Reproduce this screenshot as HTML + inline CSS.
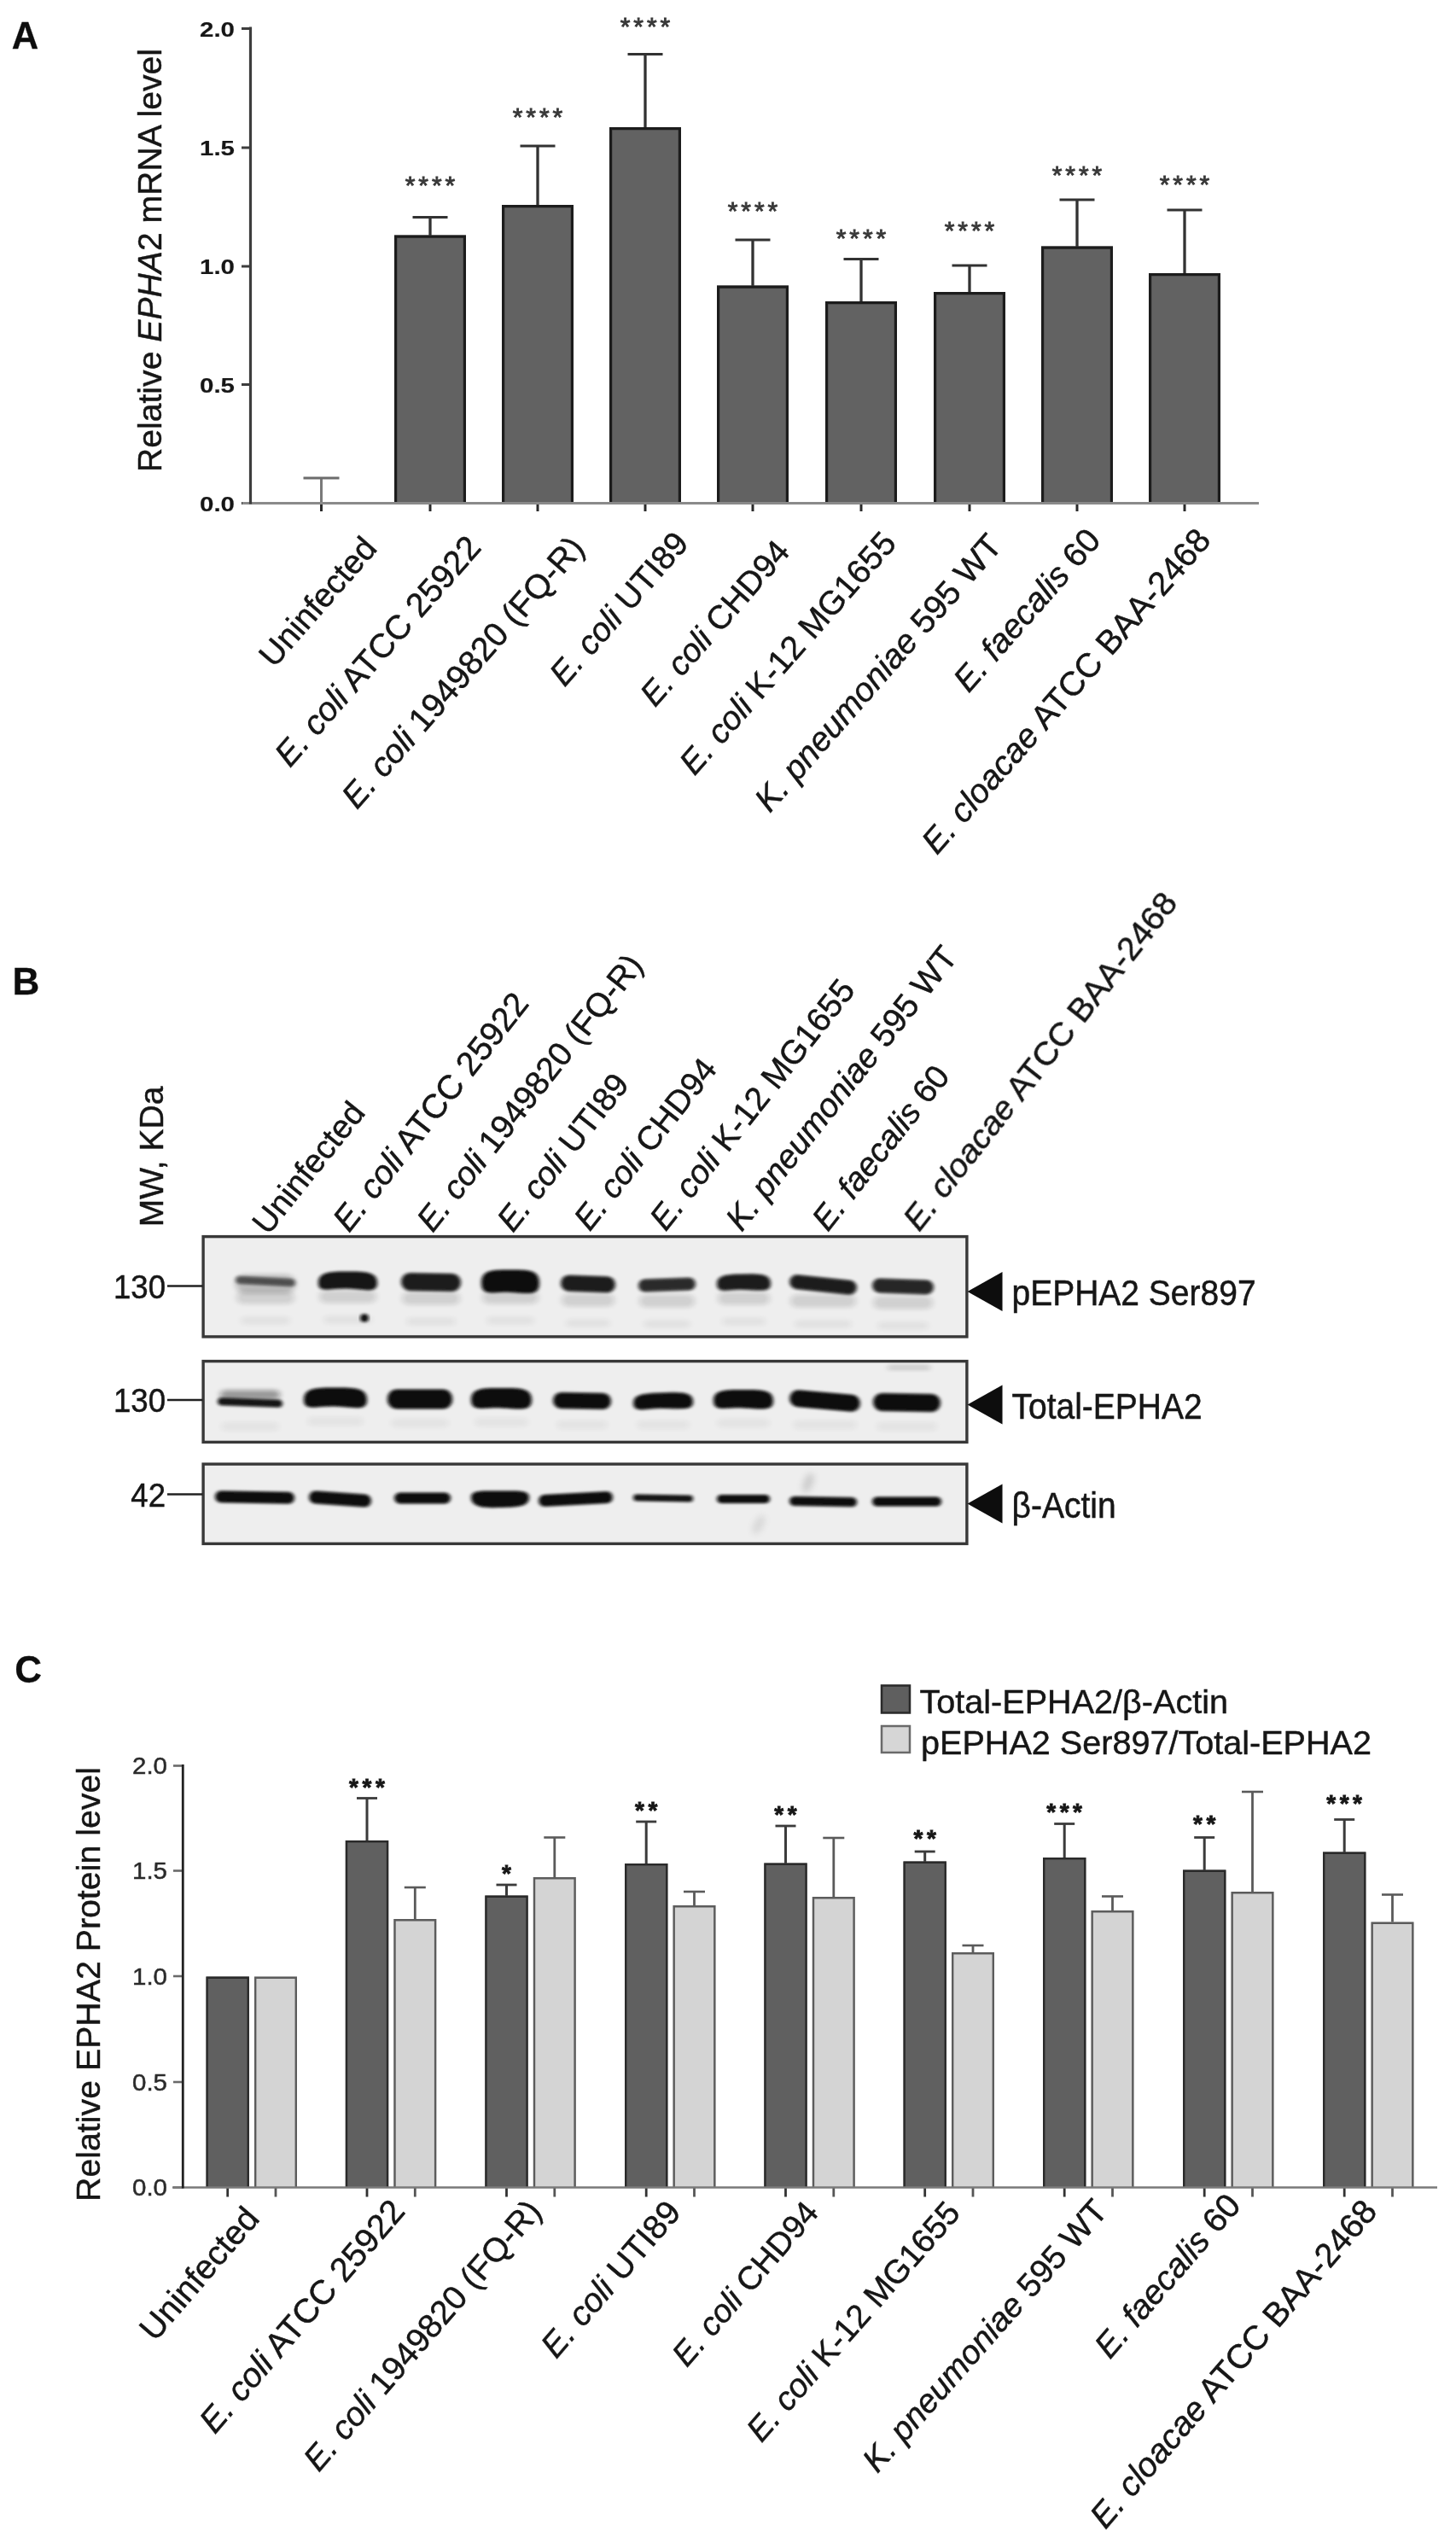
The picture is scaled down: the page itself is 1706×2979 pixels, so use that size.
<!DOCTYPE html>
<html lang="en"><head><meta charset="utf-8"><title>EPHA2 expression figure</title>
<style>html,body{margin:0;padding:0;background:#fff}svg{display:block}text{font-family:"Liberation Sans", sans-serif;white-space:pre}</style></head><body>
<svg width="1706" height="2979" viewBox="0 0 1706 2979">
<defs><filter id="b1" x="-20%" y="-60%" width="140%" height="220%"><feGaussianBlur stdDeviation="2.2 1.6"/></filter><filter id="b2" x="-20%" y="-60%" width="140%" height="220%"><feGaussianBlur stdDeviation="3.5 2.5"/></filter><filter id="b3" x="-150%" y="-60%" width="400%" height="220%"><feGaussianBlur stdDeviation="3.5"/></filter><filter id="b0" x="-5%" y="-5%" width="110%" height="110%"><feGaussianBlur stdDeviation="0.7"/></filter></defs>
<rect width="1706" height="2979" fill="#fff"/>
<g filter="url(#b0)">
<text x="13.7" y="57.4" font-size="43.5" text-anchor="start" font-weight="bold" fill="#111" stroke="#111" stroke-width="0.3" >A</text>
<line x1="283.0" y1="33.5" x2="293.5" y2="33.5" stroke="#3c3c3c" stroke-width="3"/>
<text x="275.0" y="42.5" font-size="24.5" text-anchor="end" font-weight="bold" fill="#161616" stroke="#161616" stroke-width="0.15" textLength="41" lengthAdjust="spacingAndGlyphs">2.0</text>
<line x1="283.0" y1="173.0" x2="293.5" y2="173.0" stroke="#3c3c3c" stroke-width="3"/>
<text x="275.0" y="182.0" font-size="24.5" text-anchor="end" font-weight="bold" fill="#161616" stroke="#161616" stroke-width="0.15" textLength="41" lengthAdjust="spacingAndGlyphs">1.5</text>
<line x1="283.0" y1="312.0" x2="293.5" y2="312.0" stroke="#3c3c3c" stroke-width="3"/>
<text x="275.0" y="321.0" font-size="24.5" text-anchor="end" font-weight="bold" fill="#161616" stroke="#161616" stroke-width="0.15" textLength="41" lengthAdjust="spacingAndGlyphs">1.0</text>
<line x1="283.0" y1="450.5" x2="293.5" y2="450.5" stroke="#3c3c3c" stroke-width="3"/>
<text x="275.0" y="459.5" font-size="24.5" text-anchor="end" font-weight="bold" fill="#161616" stroke="#161616" stroke-width="0.15" textLength="41" lengthAdjust="spacingAndGlyphs">0.5</text>
<line x1="283.0" y1="589.5" x2="293.5" y2="589.5" stroke="#3c3c3c" stroke-width="3"/>
<text x="275.0" y="598.5" font-size="24.5" text-anchor="end" font-weight="bold" fill="#161616" stroke="#161616" stroke-width="0.15" textLength="41" lengthAdjust="spacingAndGlyphs">0.0</text>
<text transform="translate(189.2,305) rotate(-90)" text-anchor="middle" font-size="39.15" fill="#141414" stroke="#141414" stroke-width="0.45">Relative <tspan font-style="italic">EPHA</tspan>2 mRNA level</text>
<line x1="376.5" y1="589.5" x2="376.5" y2="599.0" stroke="#2a2a2a" stroke-width="3"/>
<line x1="376.5" y1="560.0" x2="376.5" y2="589.5" stroke="#7a7a7a" stroke-width="3"/>
<line x1="355.5" y1="560.0" x2="397.5" y2="560.0" stroke="#6c6c6c" stroke-width="3"/>
<line x1="504.0" y1="589.5" x2="504.0" y2="599.0" stroke="#2a2a2a" stroke-width="3"/>
<line x1="504.0" y1="254.5" x2="504.0" y2="277.5" stroke="#333" stroke-width="3.3"/>
<line x1="483.5" y1="254.5" x2="524.5" y2="254.5" stroke="#333" stroke-width="3"/>
<rect x="462.0" y="275.5" width="84.0" height="314.0" fill="#626262"/>
<path d="M463.6,589.5 V277.1 H544.4 V589.5" fill="none" stroke="#1c1c1c" stroke-width="3.2"/>
<text x="505.9" y="227.0" font-size="30" text-anchor="middle" font-weight="normal" fill="#383838" stroke="#383838" stroke-width="0.9" letter-spacing="3.9">****</text>
<line x1="630.0" y1="589.5" x2="630.0" y2="599.0" stroke="#2a2a2a" stroke-width="3"/>
<line x1="630.0" y1="171.0" x2="630.0" y2="242.0" stroke="#333" stroke-width="3.3"/>
<line x1="609.5" y1="171.0" x2="650.5" y2="171.0" stroke="#333" stroke-width="3"/>
<rect x="588.0" y="240.0" width="84.0" height="349.5" fill="#626262"/>
<path d="M589.6,589.5 V241.6 H670.4 V589.5" fill="none" stroke="#1c1c1c" stroke-width="3.2"/>
<text x="631.9" y="146.5" font-size="30" text-anchor="middle" font-weight="normal" fill="#383838" stroke="#383838" stroke-width="0.9" letter-spacing="3.9">****</text>
<line x1="756.0" y1="589.5" x2="756.0" y2="599.0" stroke="#2a2a2a" stroke-width="3"/>
<line x1="756.0" y1="63.5" x2="756.0" y2="151.0" stroke="#333" stroke-width="3.3"/>
<line x1="735.5" y1="63.5" x2="776.5" y2="63.5" stroke="#333" stroke-width="3"/>
<rect x="714.0" y="149.0" width="84.0" height="440.5" fill="#626262"/>
<path d="M715.6,589.5 V150.6 H796.4 V589.5" fill="none" stroke="#1c1c1c" stroke-width="3.2"/>
<text x="757.9" y="41.0" font-size="30" text-anchor="middle" font-weight="normal" fill="#383838" stroke="#383838" stroke-width="0.9" letter-spacing="3.9">****</text>
<line x1="882.0" y1="589.5" x2="882.0" y2="599.0" stroke="#2a2a2a" stroke-width="3"/>
<line x1="882.0" y1="281.0" x2="882.0" y2="336.5" stroke="#333" stroke-width="3.3"/>
<line x1="861.5" y1="281.0" x2="902.5" y2="281.0" stroke="#333" stroke-width="3"/>
<rect x="840.0" y="334.5" width="84.0" height="255.0" fill="#626262"/>
<path d="M841.6,589.5 V336.1 H922.4 V589.5" fill="none" stroke="#1c1c1c" stroke-width="3.2"/>
<text x="883.9" y="256.5" font-size="30" text-anchor="middle" font-weight="normal" fill="#383838" stroke="#383838" stroke-width="0.9" letter-spacing="3.9">****</text>
<line x1="1009.0" y1="589.5" x2="1009.0" y2="599.0" stroke="#2a2a2a" stroke-width="3"/>
<line x1="1009.0" y1="303.5" x2="1009.0" y2="355.0" stroke="#333" stroke-width="3.3"/>
<line x1="988.5" y1="303.5" x2="1029.5" y2="303.5" stroke="#333" stroke-width="3"/>
<rect x="967.0" y="353.0" width="84.0" height="236.5" fill="#626262"/>
<path d="M968.6,589.5 V354.6 H1049.4 V589.5" fill="none" stroke="#1c1c1c" stroke-width="3.2"/>
<text x="1010.9" y="288.5" font-size="30" text-anchor="middle" font-weight="normal" fill="#383838" stroke="#383838" stroke-width="0.9" letter-spacing="3.9">****</text>
<line x1="1136.0" y1="589.5" x2="1136.0" y2="599.0" stroke="#2a2a2a" stroke-width="3"/>
<line x1="1136.0" y1="311.0" x2="1136.0" y2="344.0" stroke="#333" stroke-width="3.3"/>
<line x1="1115.5" y1="311.0" x2="1156.5" y2="311.0" stroke="#333" stroke-width="3"/>
<rect x="1094.0" y="342.0" width="84.0" height="247.5" fill="#626262"/>
<path d="M1095.6,589.5 V343.6 H1176.4 V589.5" fill="none" stroke="#1c1c1c" stroke-width="3.2"/>
<text x="1137.9" y="280.0" font-size="30" text-anchor="middle" font-weight="normal" fill="#383838" stroke="#383838" stroke-width="0.9" letter-spacing="3.9">****</text>
<line x1="1262.0" y1="589.5" x2="1262.0" y2="599.0" stroke="#2a2a2a" stroke-width="3"/>
<line x1="1262.0" y1="234.0" x2="1262.0" y2="290.5" stroke="#333" stroke-width="3.3"/>
<line x1="1241.5" y1="234.0" x2="1282.5" y2="234.0" stroke="#333" stroke-width="3"/>
<rect x="1220.0" y="288.5" width="84.0" height="301.0" fill="#626262"/>
<path d="M1221.6,589.5 V290.1 H1302.4 V589.5" fill="none" stroke="#1c1c1c" stroke-width="3.2"/>
<text x="1263.9" y="215.0" font-size="30" text-anchor="middle" font-weight="normal" fill="#383838" stroke="#383838" stroke-width="0.9" letter-spacing="3.9">****</text>
<line x1="1388.0" y1="589.5" x2="1388.0" y2="599.0" stroke="#2a2a2a" stroke-width="3"/>
<line x1="1388.0" y1="246.0" x2="1388.0" y2="322.0" stroke="#333" stroke-width="3.3"/>
<line x1="1367.5" y1="246.0" x2="1408.5" y2="246.0" stroke="#333" stroke-width="3"/>
<rect x="1346.0" y="320.0" width="84.0" height="269.5" fill="#626262"/>
<path d="M1347.6,589.5 V321.6 H1428.4 V589.5" fill="none" stroke="#1c1c1c" stroke-width="3.2"/>
<text x="1389.9" y="226.0" font-size="30" text-anchor="middle" font-weight="normal" fill="#383838" stroke="#383838" stroke-width="0.9" letter-spacing="3.9">****</text>
<line x1="284.0" y1="589.5" x2="1475.0" y2="589.5" stroke="#8a8a8a" stroke-width="2.8"/>
<line x1="293.5" y1="31.5" x2="293.5" y2="590.5" stroke="#3c3c3c" stroke-width="3.2"/>
<text transform="translate(443.5,643.5) rotate(-48.8)" text-anchor="end" font-size="38.9" fill="#141414" stroke="#141414" stroke-width="0.45">Uninfected</text>
<text transform="translate(565.4,642.5) rotate(-48.8)" text-anchor="end" font-size="39.6" fill="#141414" stroke="#141414" stroke-width="0.45"><tspan font-style="italic">E. coli</tspan> ATCC 25922</text>
<text transform="translate(686.4,643.0) rotate(-48.8)" text-anchor="end" font-size="39.6" fill="#141414" stroke="#141414" stroke-width="0.45"><tspan font-style="italic">E. coli</tspan> 1949820 (FQ-R)</text>
<text transform="translate(808.5,637.7) rotate(-48.8)" text-anchor="end" font-size="39.0" fill="#141414" stroke="#141414" stroke-width="0.45"><tspan font-style="italic">E. coli</tspan> UTI89</text>
<text transform="translate(927.2,647.3) rotate(-48.8)" text-anchor="end" font-size="38.6" fill="#141414" stroke="#141414" stroke-width="0.45"><tspan font-style="italic">E. coli</tspan> CHD94</text>
<text transform="translate(1052.0,637.7) rotate(-48.8)" text-anchor="end" font-size="39.2" fill="#141414" stroke="#141414" stroke-width="0.45"><tspan font-style="italic">E. coli</tspan> K-12 MG1655</text>
<text transform="translate(1176.0,640.5) rotate(-48.8)" text-anchor="end" font-size="39.6" fill="#141414" stroke="#141414" stroke-width="0.45"><tspan font-style="italic">K. pneumoniae</tspan> 595 WT</text>
<text transform="translate(1291.5,634.0) rotate(-48.8)" text-anchor="end" font-size="39.6" fill="#141414" stroke="#141414" stroke-width="0.45"><tspan font-style="italic">E. faecalis</tspan> 60</text>
<text transform="translate(1420.5,634.0) rotate(-48.8)" text-anchor="end" font-size="39.6" fill="#141414" stroke="#141414" stroke-width="0.45"><tspan font-style="italic">E. cloacae</tspan> ATCC BAA-2468</text>
<text x="14.6" y="1165.0" font-size="44" text-anchor="start" font-weight="bold" fill="#111" stroke="#111" stroke-width="0.3" >B</text>
<text transform="translate(190.5,1355) rotate(-90)" text-anchor="middle" font-size="39" fill="#141414" stroke="#141414" stroke-width="0.45">MW, KDa</text>
<rect x="238.1" y="1448.6" width="894.8" height="117.3" fill="#eeeeee" stroke="#383838" stroke-width="3.4" />
<rect x="238.1" y="1594.6" width="894.8" height="94.8" fill="#eeeeee" stroke="#383838" stroke-width="3.4" />
<rect x="238.1" y="1715.1" width="894.8" height="93.3" fill="#eeeeee" stroke="#383838" stroke-width="3.4" />
<rect x="277.0" y="1512.5" width="68.0" height="15.0" rx="7.5" fill="#0a0a0a" opacity="0.13" filter="url(#b2)"/>
<rect x="282.0" y="1542.0" width="58.0" height="10.0" rx="5.0" fill="#0a0a0a" opacity="0.05" filter="url(#b2)"/>
<rect x="276.0" y="1493.0" width="70.0" height="22.0" rx="11.0" fill="#0a0a0a" opacity="0.22" filter="url(#b2)"/>
<rect x="276.0" y="1496.5" width="70.0" height="9.0" rx="4.5" fill="#0a0a0a" opacity="0.62" filter="url(#b1)" transform="rotate(3 311.0 1501.0)"/>
<rect x="374.0" y="1511.5" width="67.0" height="15.0" rx="7.5" fill="#0a0a0a" opacity="0.13" filter="url(#b2)"/>
<rect x="379.0" y="1541.0" width="57.0" height="10.0" rx="5.0" fill="#0a0a0a" opacity="0.05" filter="url(#b2)"/>
<path d="M373.0,1503.0 C373.0,1489.7 386.8,1489.5 407.5,1489.5 S442.0,1489.7 442.0,1503.0 C442.0,1515.6 428.2,1510.5 407.5,1509.6 S373.0,1515.6 373.0,1503.0Z" fill="#0a0a0a" opacity="0.97" filter="url(#b1)"/>
<rect x="471.0" y="1513.5" width="68.0" height="15.0" rx="7.5" fill="#0a0a0a" opacity="0.13" filter="url(#b2)"/>
<rect x="476.0" y="1543.0" width="58.0" height="10.0" rx="5.0" fill="#0a0a0a" opacity="0.05" filter="url(#b2)"/>
<rect x="470.0" y="1491.5" width="70.0" height="21.0" rx="10.5" fill="#0a0a0a" opacity="0.93" filter="url(#b1)" transform="rotate(1 505.0 1502.0)"/>
<rect x="565.0" y="1512.5" width="66.0" height="15.0" rx="7.5" fill="#0a0a0a" opacity="0.13" filter="url(#b2)"/>
<rect x="570.0" y="1542.0" width="56.0" height="10.0" rx="5.0" fill="#0a0a0a" opacity="0.05" filter="url(#b2)"/>
<path d="M564.0,1503.0 C564.0,1487.0 577.6,1487.5 598.0,1487.5 S632.0,1487.0 632.0,1503.0 C632.0,1519.2 618.4,1514.5 598.0,1513.9 S564.0,1519.2 564.0,1503.0Z" fill="#0a0a0a" opacity="1.0" filter="url(#b1)"/>
<rect x="658.0" y="1515.5" width="62.0" height="15.0" rx="7.5" fill="#0a0a0a" opacity="0.13" filter="url(#b2)"/>
<rect x="663.0" y="1545.0" width="52.0" height="10.0" rx="5.0" fill="#0a0a0a" opacity="0.05" filter="url(#b2)"/>
<rect x="657.0" y="1494.5" width="64.0" height="19.0" rx="9.5" fill="#0a0a0a" opacity="0.93" filter="url(#b1)" transform="rotate(2 689.0 1504.0)"/>
<rect x="749.0" y="1516.5" width="65.0" height="15.0" rx="7.5" fill="#0a0a0a" opacity="0.13" filter="url(#b2)"/>
<rect x="754.0" y="1546.0" width="55.0" height="10.0" rx="5.0" fill="#0a0a0a" opacity="0.05" filter="url(#b2)"/>
<rect x="748.0" y="1497.5" width="67.0" height="15.0" rx="7.5" fill="#0a0a0a" opacity="0.86" filter="url(#b1)" transform="rotate(-2 781.5 1505.0)"/>
<rect x="841.0" y="1513.5" width="61.0" height="15.0" rx="7.5" fill="#0a0a0a" opacity="0.13" filter="url(#b2)"/>
<rect x="846.0" y="1543.0" width="51.0" height="10.0" rx="5.0" fill="#0a0a0a" opacity="0.05" filter="url(#b2)"/>
<path d="M840.0,1504.0 C840.0,1492.3 852.6,1492.5 871.5,1492.5 S903.0,1492.3 903.0,1504.0 C903.0,1515.4 890.4,1511.5 871.5,1510.9 S840.0,1515.4 840.0,1504.0Z" fill="#0a0a0a" opacity="0.93" filter="url(#b1)" transform="rotate(-1 871.5 1502.0)"/>
<rect x="926.0" y="1516.5" width="77.0" height="15.0" rx="7.5" fill="#0a0a0a" opacity="0.13" filter="url(#b2)"/>
<rect x="931.0" y="1546.0" width="67.0" height="10.0" rx="5.0" fill="#0a0a0a" opacity="0.05" filter="url(#b2)"/>
<rect x="925.0" y="1496.5" width="79.0" height="17.0" rx="8.5" fill="#0a0a0a" opacity="0.92" filter="url(#b1)" transform="rotate(6 964.5 1505.0)"/>
<rect x="1023.0" y="1518.5" width="70.0" height="15.0" rx="7.5" fill="#0a0a0a" opacity="0.13" filter="url(#b2)"/>
<rect x="1028.0" y="1548.0" width="60.0" height="10.0" rx="5.0" fill="#0a0a0a" opacity="0.05" filter="url(#b2)"/>
<rect x="1022.0" y="1498.5" width="72.0" height="17.0" rx="8.5" fill="#0a0a0a" opacity="0.88" filter="url(#b1)" transform="rotate(2 1058.0 1507.0)"/>
<circle cx="427" cy="1544" r="5" fill="#111" filter="url(#b1)"/>
<rect x="258.0" y="1628.5" width="70.0" height="11.0" rx="5.5" fill="#0a0a0a" opacity="0.38" filter="url(#b2)"/>
<rect x="255.0" y="1638.5" width="76.0" height="9.0" rx="4.5" fill="#0a0a0a" opacity="0.97" filter="url(#b1)" transform="rotate(2 293.0 1643.0)"/>
<rect x="259.0" y="1665.5" width="68.0" height="11.0" rx="5.5" fill="#0a0a0a" opacity="0.045" filter="url(#b2)"/>
<path d="M356.0,1640.0 C356.0,1625.5 370.8,1625.5 393.0,1625.5 S430.0,1625.5 430.0,1640.0 C430.0,1653.8 415.2,1648.5 393.0,1647.6 S356.0,1653.8 356.0,1640.0Z" fill="#0a0a0a" opacity="1.0" filter="url(#b1)"/>
<rect x="360.0" y="1659.5" width="66.0" height="11.0" rx="5.5" fill="#0a0a0a" opacity="0.045" filter="url(#b2)"/>
<rect x="454.0" y="1627.5" width="76.0" height="23.0" rx="11.0" fill="#0a0a0a" opacity="1.0" filter="url(#b1)"/>
<rect x="458.0" y="1661.5" width="68.0" height="11.0" rx="5.5" fill="#0a0a0a" opacity="0.045" filter="url(#b2)"/>
<path d="M552.0,1640.0 C552.0,1625.6 566.2,1626.0 587.5,1626.0 S623.0,1625.6 623.0,1640.0 C623.0,1654.4 608.8,1650.0 587.5,1649.4 S552.0,1654.4 552.0,1640.0Z" fill="#0a0a0a" opacity="1.0" filter="url(#b1)"/>
<rect x="556.0" y="1660.5" width="63.0" height="11.0" rx="5.5" fill="#0a0a0a" opacity="0.045" filter="url(#b2)"/>
<rect x="648.0" y="1631.5" width="68.0" height="19.0" rx="9.5" fill="#0a0a0a" opacity="1.0" filter="url(#b1)" transform="rotate(1 682.0 1641.0)"/>
<rect x="652.0" y="1663.5" width="60.0" height="11.0" rx="5.5" fill="#0a0a0a" opacity="0.045" filter="url(#b2)"/>
<path d="M742.0,1643.0 C742.0,1631.3 756.0,1631.5 777.0,1631.5 S812.0,1631.3 812.0,1643.0 C812.0,1654.4 798.0,1650.5 777.0,1649.9 S742.0,1654.4 742.0,1643.0Z" fill="#0a0a0a" opacity="1.0" filter="url(#b1)" transform="rotate(-2 777.0 1641.0)"/>
<rect x="746.0" y="1663.5" width="62.0" height="11.0" rx="5.5" fill="#0a0a0a" opacity="0.045" filter="url(#b2)"/>
<path d="M836.0,1641.0 C836.0,1627.7 850.0,1628.0 871.0,1628.0 S906.0,1627.7 906.0,1641.0 C906.0,1654.2 892.0,1650.0 871.0,1649.4 S836.0,1654.2 836.0,1641.0Z" fill="#0a0a0a" opacity="1.0" filter="url(#b1)"/>
<rect x="840.0" y="1661.5" width="62.0" height="11.0" rx="5.5" fill="#0a0a0a" opacity="0.045" filter="url(#b2)"/>
<rect x="925.0" y="1631.0" width="83.0" height="20.0" rx="10.0" fill="#0a0a0a" opacity="1.0" filter="url(#b1)" transform="rotate(5 966.5 1641.0)"/>
<rect x="929.0" y="1663.5" width="75.0" height="11.0" rx="5.5" fill="#0a0a0a" opacity="0.045" filter="url(#b2)"/>
<rect x="1023.0" y="1632.5" width="79.0" height="21.0" rx="10.5" fill="#0a0a0a" opacity="1.0" filter="url(#b1)" transform="rotate(1 1062.5 1643.0)"/>
<rect x="1027.0" y="1665.5" width="71.0" height="11.0" rx="5.5" fill="#0a0a0a" opacity="0.045" filter="url(#b2)"/>
<rect x="1040.0" y="1599.5" width="50.0" height="5.0" rx="2.5" fill="#0a0a0a" opacity="0.18" filter="url(#b2)"/>
<rect x="252.0" y="1747.0" width="93.0" height="14.0" rx="7.0" fill="#0a0a0a" opacity="1.0" filter="url(#b1)" transform="rotate(1 298.5 1754.0)"/>
<rect x="362.0" y="1748.5" width="73.0" height="15.0" rx="7.5" fill="#0a0a0a" opacity="1.0" filter="url(#b1)" transform="rotate(4 398.5 1756.0)"/>
<rect x="462.0" y="1748.5" width="66.0" height="13.0" rx="6.5" fill="#0a0a0a" opacity="1.0" filter="url(#b1)"/>
<path d="M552.0,1754.0 C552.0,1744.8 565.6,1746.5 586.0,1746.5 S620.0,1744.8 620.0,1754.0 C620.0,1765.4 606.4,1765.5 586.0,1766.1 S552.0,1765.4 552.0,1754.0Z" fill="#0a0a0a" opacity="1.0" filter="url(#b1)"/>
<rect x="631.0" y="1749.0" width="87.0" height="14.0" rx="7.0" fill="#0a0a0a" opacity="1.0" filter="url(#b1)" transform="rotate(-3 674.5 1756.0)"/>
<rect x="742.0" y="1751.0" width="70.0" height="8.0" rx="4.0" fill="#0a0a0a" opacity="0.97" filter="url(#b1)" transform="rotate(1 777.0 1755.0)"/>
<rect x="840.0" y="1751.0" width="62.0" height="10.0" rx="5.0" fill="#0a0a0a" opacity="1.0" filter="url(#b1)"/>
<rect x="925.0" y="1753.5" width="79.0" height="11.0" rx="5.5" fill="#0a0a0a" opacity="1.0" filter="url(#b1)" transform="rotate(1 964.5 1759.0)"/>
<rect x="1022.0" y="1753.5" width="81.0" height="11.0" rx="5.5" fill="#0a0a0a" opacity="1.0" filter="url(#b1)"/>
<ellipse cx="947" cy="1737" rx="6" ry="12" fill="#555" opacity="0.2" filter="url(#b3)" transform="rotate(22 947 1737)"/>
<ellipse cx="889" cy="1786" rx="6" ry="12" fill="#555" opacity="0.13" filter="url(#b3)" transform="rotate(28 889 1786)"/>
<text transform="translate(194.0,1520.5) scale(1,1.07)" font-size="36.6" text-anchor="end" font-weight="normal" fill="#141414" stroke="#141414" stroke-width="0.45" >130</text>
<line x1="196.0" y1="1506.5" x2="237.5" y2="1506.5" stroke="#222" stroke-width="2.6"/>
<text transform="translate(194.0,1654.0) scale(1,1.07)" font-size="36.6" text-anchor="end" font-weight="normal" fill="#141414" stroke="#141414" stroke-width="0.45" >130</text>
<line x1="196.0" y1="1640.0" x2="237.5" y2="1640.0" stroke="#222" stroke-width="2.6"/>
<text transform="translate(194.0,1764.5) scale(1,1.07)" font-size="36.6" text-anchor="end" font-weight="normal" fill="#141414" stroke="#141414" stroke-width="0.45" >42</text>
<line x1="196.0" y1="1750.5" x2="237.5" y2="1750.5" stroke="#222" stroke-width="2.6"/>
<polygon points="1133.5,1513.0 1174.5,1490.0 1174.5,1536.0" fill="#0c0c0c"/>
<text transform="translate(1185.5,1529.0) scale(1,1.07)" font-size="39" text-anchor="start" font-weight="normal" fill="#141414" stroke="#141414" stroke-width="0.45" >pEPHA2 Ser897</text>
<polygon points="1133.5,1645.5 1174.5,1622.5 1174.5,1668.5" fill="#0c0c0c"/>
<text transform="translate(1185.5,1661.5) scale(1,1.07)" font-size="39" text-anchor="start" font-weight="normal" fill="#141414" stroke="#141414" stroke-width="0.45" >Total-EPHA2</text>
<polygon points="1133.5,1761.5 1174.5,1738.5 1174.5,1784.5" fill="#0c0c0c"/>
<text transform="translate(1185.5,1777.5) scale(1,1.07)" font-size="39" text-anchor="start" font-weight="normal" fill="#141414" stroke="#141414" stroke-width="0.45" >β-Actin</text>
<text transform="translate(314.0,1448.0) rotate(-51.3)" text-anchor="start" font-size="38.6" fill="#141414" stroke="#141414" stroke-width="0.45">Uninfected</text>
<text transform="translate(409.0,1445.0) rotate(-51.7)" text-anchor="start" font-size="39.6" fill="#141414" stroke="#141414" stroke-width="0.45"><tspan font-style="italic">E. coli</tspan> ATCC 25922</text>
<text transform="translate(507.0,1445.0) rotate(-51.7)" text-anchor="start" font-size="38.9" fill="#141414" stroke="#141414" stroke-width="0.45"><tspan font-style="italic">E. coli</tspan> 1949820 (FQ-R)</text>
<text transform="translate(601.0,1445.0) rotate(-51.7)" text-anchor="start" font-size="38.8" fill="#141414" stroke="#141414" stroke-width="0.45"><tspan font-style="italic">E. coli</tspan> UTI89</text>
<text transform="translate(691.0,1443.5) rotate(-51.7)" text-anchor="start" font-size="38.7" fill="#141414" stroke="#141414" stroke-width="0.45"><tspan font-style="italic">E. coli</tspan> CHD94</text>
<text transform="translate(780.0,1443.5) rotate(-51.7)" text-anchor="start" font-size="39.1" fill="#141414" stroke="#141414" stroke-width="0.45"><tspan font-style="italic">E. coli</tspan> K-12 MG1655</text>
<text transform="translate(869.0,1444.0) rotate(-51.7)" text-anchor="start" font-size="39.1" fill="#141414" stroke="#141414" stroke-width="0.45"><tspan font-style="italic">K. pneumoniae</tspan> 595 WT</text>
<text transform="translate(970.0,1444.0) rotate(-51.7)" text-anchor="start" font-size="38.8" fill="#141414" stroke="#141414" stroke-width="0.45"><tspan font-style="italic">E. faecalis</tspan> 60</text>
<text transform="translate(1077.0,1444.0) rotate(-51.7)" text-anchor="start" font-size="39.7" fill="#141414" stroke="#141414" stroke-width="0.45"><tspan font-style="italic">E. cloacae</tspan> ATCC BAA-2468</text>
<text x="17.2" y="1971.0" font-size="44" text-anchor="start" font-weight="bold" fill="#111" stroke="#111" stroke-width="0.3" >C</text>
<rect x="1033.0" y="1974.5" width="33.0" height="32.0" fill="#5e5e5e" stroke="#2a2a2a" stroke-width="2.5" />
<rect x="1033.0" y="2022.0" width="33.0" height="31.0" fill="#d6d6d6" stroke="#6a6a6a" stroke-width="2.5" />
<text x="1077.5" y="2007.0" font-size="39.6" text-anchor="start" font-weight="normal" fill="#141414" stroke="#141414" stroke-width="0.45" >Total-EPHA2/β-Actin</text>
<text x="1079.0" y="2055.0" font-size="39.6" text-anchor="start" font-weight="normal" fill="#141414" stroke="#141414" stroke-width="0.45" >pEPHA2 Ser897/Total-EPHA2</text>
<line x1="203.0" y1="2068.5" x2="214.3" y2="2068.5" stroke="#6a6a6a" stroke-width="2.6"/>
<text x="196.0" y="2078.0" font-size="27.5" text-anchor="end" font-weight="normal" fill="#2a2a2a" stroke="#2a2a2a" stroke-width="0.45" textLength="41" lengthAdjust="spacingAndGlyphs">2.0</text>
<line x1="203.0" y1="2191.5" x2="214.3" y2="2191.5" stroke="#6a6a6a" stroke-width="2.6"/>
<text x="196.0" y="2201.0" font-size="27.5" text-anchor="end" font-weight="normal" fill="#2a2a2a" stroke="#2a2a2a" stroke-width="0.45" textLength="41" lengthAdjust="spacingAndGlyphs">1.5</text>
<line x1="203.0" y1="2315.0" x2="214.3" y2="2315.0" stroke="#6a6a6a" stroke-width="2.6"/>
<text x="196.0" y="2324.5" font-size="27.5" text-anchor="end" font-weight="normal" fill="#2a2a2a" stroke="#2a2a2a" stroke-width="0.45" textLength="41" lengthAdjust="spacingAndGlyphs">1.0</text>
<line x1="203.0" y1="2439.0" x2="214.3" y2="2439.0" stroke="#6a6a6a" stroke-width="2.6"/>
<text x="196.0" y="2448.5" font-size="27.5" text-anchor="end" font-weight="normal" fill="#2a2a2a" stroke="#2a2a2a" stroke-width="0.45" textLength="41" lengthAdjust="spacingAndGlyphs">0.5</text>
<line x1="203.0" y1="2562.5" x2="214.3" y2="2562.5" stroke="#6a6a6a" stroke-width="2.6"/>
<text x="196.0" y="2572.0" font-size="27.5" text-anchor="end" font-weight="normal" fill="#2a2a2a" stroke="#2a2a2a" stroke-width="0.45" textLength="41" lengthAdjust="spacingAndGlyphs">0.0</text>
<text transform="translate(117.3,2324.5) rotate(-90)" text-anchor="middle" font-size="39.3" fill="#141414" stroke="#141414" stroke-width="0.45">Relative EPHA2 Protein level</text>
<line x1="266.7" y1="2562.5" x2="266.7" y2="2573.5" stroke="#333" stroke-width="2.8"/>
<line x1="323.0" y1="2562.5" x2="323.0" y2="2573.5" stroke="#555" stroke-width="2.8"/>
<rect x="241.5" y="2315.5" width="50.4" height="247.0" fill="#606060"/>
<path d="M242.7,2562.5 V2316.7 H290.7 V2562.5" fill="none" stroke="#2c2c2c" stroke-width="2.4"/>
<rect x="298.0" y="2315.5" width="50.0" height="247.0" fill="#d4d4d4"/>
<path d="M299.2,2562.5 V2316.7 H346.8 V2562.5" fill="none" stroke="#5c5c5c" stroke-width="2.4"/>
<line x1="430.0" y1="2562.5" x2="430.0" y2="2573.5" stroke="#333" stroke-width="2.8"/>
<line x1="486.3" y1="2562.5" x2="486.3" y2="2573.5" stroke="#555" stroke-width="2.8"/>
<line x1="430.0" y1="2106.5" x2="430.0" y2="2158.0" stroke="#3a3a3a" stroke-width="3.0"/>
<line x1="418.0" y1="2106.5" x2="442.0" y2="2106.5" stroke="#3a3a3a" stroke-width="2.8"/>
<line x1="486.3" y1="2211.0" x2="486.3" y2="2250.0" stroke="#5a5a5a" stroke-width="2.8"/>
<line x1="473.8" y1="2211.0" x2="498.8" y2="2211.0" stroke="#5a5a5a" stroke-width="2.6"/>
<rect x="404.8" y="2156.0" width="50.4" height="406.5" fill="#606060"/>
<path d="M406.0,2562.5 V2157.2 H454.0 V2562.5" fill="none" stroke="#2c2c2c" stroke-width="2.4"/>
<rect x="461.3" y="2248.0" width="50.0" height="314.5" fill="#d4d4d4"/>
<path d="M462.5,2562.5 V2249.2 H510.1 V2562.5" fill="none" stroke="#5c5c5c" stroke-width="2.4"/>
<text x="432.2" y="2103.0" font-size="28" text-anchor="middle" font-weight="bold" fill="#161616" stroke="#161616" stroke-width="0.8" letter-spacing="4.5">***</text>
<line x1="593.5" y1="2562.5" x2="593.5" y2="2573.5" stroke="#333" stroke-width="2.8"/>
<line x1="649.8" y1="2562.5" x2="649.8" y2="2573.5" stroke="#555" stroke-width="2.8"/>
<line x1="593.5" y1="2208.0" x2="593.5" y2="2222.5" stroke="#3a3a3a" stroke-width="3.0"/>
<line x1="581.5" y1="2208.0" x2="605.5" y2="2208.0" stroke="#3a3a3a" stroke-width="2.8"/>
<line x1="649.8" y1="2152.5" x2="649.8" y2="2201.0" stroke="#5a5a5a" stroke-width="2.8"/>
<line x1="637.3" y1="2152.5" x2="662.3" y2="2152.5" stroke="#5a5a5a" stroke-width="2.6"/>
<rect x="568.3" y="2220.5" width="50.4" height="342.0" fill="#606060"/>
<path d="M569.5,2562.5 V2221.7 H617.5 V2562.5" fill="none" stroke="#2c2c2c" stroke-width="2.4"/>
<rect x="624.8" y="2199.0" width="50.0" height="363.5" fill="#d4d4d4"/>
<path d="M626.0,2562.5 V2200.2 H673.6 V2562.5" fill="none" stroke="#5c5c5c" stroke-width="2.4"/>
<text x="595.7" y="2203.5" font-size="28" text-anchor="middle" font-weight="bold" fill="#161616" stroke="#161616" stroke-width="0.8" letter-spacing="4.5">*</text>
<line x1="757.2" y1="2562.5" x2="757.2" y2="2573.5" stroke="#333" stroke-width="2.8"/>
<line x1="813.5" y1="2562.5" x2="813.5" y2="2573.5" stroke="#555" stroke-width="2.8"/>
<line x1="757.2" y1="2134.0" x2="757.2" y2="2185.0" stroke="#3a3a3a" stroke-width="3.0"/>
<line x1="745.2" y1="2134.0" x2="769.2" y2="2134.0" stroke="#3a3a3a" stroke-width="2.8"/>
<line x1="813.5" y1="2216.0" x2="813.5" y2="2234.0" stroke="#5a5a5a" stroke-width="2.8"/>
<line x1="801.0" y1="2216.0" x2="826.0" y2="2216.0" stroke="#5a5a5a" stroke-width="2.6"/>
<rect x="732.0" y="2183.0" width="50.4" height="379.5" fill="#606060"/>
<path d="M733.2,2562.5 V2184.2 H781.2 V2562.5" fill="none" stroke="#2c2c2c" stroke-width="2.4"/>
<rect x="788.5" y="2232.0" width="50.0" height="330.5" fill="#d4d4d4"/>
<path d="M789.7,2562.5 V2233.2 H837.3 V2562.5" fill="none" stroke="#5c5c5c" stroke-width="2.4"/>
<text x="759.4" y="2129.5" font-size="28" text-anchor="middle" font-weight="bold" fill="#161616" stroke="#161616" stroke-width="0.8" letter-spacing="4.5">**</text>
<line x1="920.5" y1="2562.5" x2="920.5" y2="2573.5" stroke="#333" stroke-width="2.8"/>
<line x1="976.8" y1="2562.5" x2="976.8" y2="2573.5" stroke="#555" stroke-width="2.8"/>
<line x1="920.5" y1="2139.0" x2="920.5" y2="2184.5" stroke="#3a3a3a" stroke-width="3.0"/>
<line x1="908.5" y1="2139.0" x2="932.5" y2="2139.0" stroke="#3a3a3a" stroke-width="2.8"/>
<line x1="976.8" y1="2153.0" x2="976.8" y2="2224.0" stroke="#5a5a5a" stroke-width="2.8"/>
<line x1="964.3" y1="2153.0" x2="989.3" y2="2153.0" stroke="#5a5a5a" stroke-width="2.6"/>
<rect x="895.3" y="2182.5" width="50.4" height="380.0" fill="#606060"/>
<path d="M896.5,2562.5 V2183.7 H944.5 V2562.5" fill="none" stroke="#2c2c2c" stroke-width="2.4"/>
<rect x="951.8" y="2222.0" width="50.0" height="340.5" fill="#d4d4d4"/>
<path d="M953.0,2562.5 V2223.2 H1000.6 V2562.5" fill="none" stroke="#5c5c5c" stroke-width="2.4"/>
<text x="922.7" y="2134.5" font-size="28" text-anchor="middle" font-weight="bold" fill="#161616" stroke="#161616" stroke-width="0.8" letter-spacing="4.5">**</text>
<line x1="1083.7" y1="2562.5" x2="1083.7" y2="2573.5" stroke="#333" stroke-width="2.8"/>
<line x1="1140.0" y1="2562.5" x2="1140.0" y2="2573.5" stroke="#555" stroke-width="2.8"/>
<line x1="1083.7" y1="2169.0" x2="1083.7" y2="2182.5" stroke="#3a3a3a" stroke-width="3.0"/>
<line x1="1071.7" y1="2169.0" x2="1095.7" y2="2169.0" stroke="#3a3a3a" stroke-width="2.8"/>
<line x1="1140.0" y1="2279.0" x2="1140.0" y2="2289.0" stroke="#5a5a5a" stroke-width="2.8"/>
<line x1="1127.5" y1="2279.0" x2="1152.5" y2="2279.0" stroke="#5a5a5a" stroke-width="2.6"/>
<rect x="1058.5" y="2180.5" width="50.4" height="382.0" fill="#606060"/>
<path d="M1059.7,2562.5 V2181.7 H1107.7 V2562.5" fill="none" stroke="#2c2c2c" stroke-width="2.4"/>
<rect x="1115.0" y="2287.0" width="50.0" height="275.5" fill="#d4d4d4"/>
<path d="M1116.2,2562.5 V2288.2 H1163.8 V2562.5" fill="none" stroke="#5c5c5c" stroke-width="2.4"/>
<text x="1085.9" y="2162.5" font-size="28" text-anchor="middle" font-weight="bold" fill="#161616" stroke="#161616" stroke-width="0.8" letter-spacing="4.5">**</text>
<line x1="1247.2" y1="2562.5" x2="1247.2" y2="2573.5" stroke="#333" stroke-width="2.8"/>
<line x1="1303.5" y1="2562.5" x2="1303.5" y2="2573.5" stroke="#555" stroke-width="2.8"/>
<line x1="1247.2" y1="2136.5" x2="1247.2" y2="2178.0" stroke="#3a3a3a" stroke-width="3.0"/>
<line x1="1235.2" y1="2136.5" x2="1259.2" y2="2136.5" stroke="#3a3a3a" stroke-width="2.8"/>
<line x1="1303.5" y1="2221.5" x2="1303.5" y2="2240.0" stroke="#5a5a5a" stroke-width="2.8"/>
<line x1="1291.0" y1="2221.5" x2="1316.0" y2="2221.5" stroke="#5a5a5a" stroke-width="2.6"/>
<rect x="1222.0" y="2176.0" width="50.4" height="386.5" fill="#606060"/>
<path d="M1223.2,2562.5 V2177.2 H1271.2 V2562.5" fill="none" stroke="#2c2c2c" stroke-width="2.4"/>
<rect x="1278.5" y="2238.0" width="50.0" height="324.5" fill="#d4d4d4"/>
<path d="M1279.7,2562.5 V2239.2 H1327.3 V2562.5" fill="none" stroke="#5c5c5c" stroke-width="2.4"/>
<text x="1249.4" y="2132.0" font-size="28" text-anchor="middle" font-weight="bold" fill="#161616" stroke="#161616" stroke-width="0.8" letter-spacing="4.5">***</text>
<line x1="1411.2" y1="2562.5" x2="1411.2" y2="2573.5" stroke="#333" stroke-width="2.8"/>
<line x1="1467.5" y1="2562.5" x2="1467.5" y2="2573.5" stroke="#555" stroke-width="2.8"/>
<line x1="1411.2" y1="2152.5" x2="1411.2" y2="2192.5" stroke="#3a3a3a" stroke-width="3.0"/>
<line x1="1399.2" y1="2152.5" x2="1423.2" y2="2152.5" stroke="#3a3a3a" stroke-width="2.8"/>
<line x1="1467.5" y1="2099.0" x2="1467.5" y2="2218.0" stroke="#5a5a5a" stroke-width="2.8"/>
<line x1="1455.0" y1="2099.0" x2="1480.0" y2="2099.0" stroke="#5a5a5a" stroke-width="2.6"/>
<rect x="1386.0" y="2190.5" width="50.4" height="372.0" fill="#606060"/>
<path d="M1387.2,2562.5 V2191.7 H1435.2 V2562.5" fill="none" stroke="#2c2c2c" stroke-width="2.4"/>
<rect x="1442.5" y="2216.0" width="50.0" height="346.5" fill="#d4d4d4"/>
<path d="M1443.7,2562.5 V2217.2 H1491.3 V2562.5" fill="none" stroke="#5c5c5c" stroke-width="2.4"/>
<text x="1413.4" y="2145.5" font-size="28" text-anchor="middle" font-weight="bold" fill="#161616" stroke="#161616" stroke-width="0.8" letter-spacing="4.5">**</text>
<line x1="1575.2" y1="2562.5" x2="1575.2" y2="2573.5" stroke="#333" stroke-width="2.8"/>
<line x1="1631.5" y1="2562.5" x2="1631.5" y2="2573.5" stroke="#555" stroke-width="2.8"/>
<line x1="1575.2" y1="2131.5" x2="1575.2" y2="2171.5" stroke="#3a3a3a" stroke-width="3.0"/>
<line x1="1563.2" y1="2131.5" x2="1587.2" y2="2131.5" stroke="#3a3a3a" stroke-width="2.8"/>
<line x1="1631.5" y1="2219.5" x2="1631.5" y2="2253.5" stroke="#5a5a5a" stroke-width="2.8"/>
<line x1="1619.0" y1="2219.5" x2="1644.0" y2="2219.5" stroke="#5a5a5a" stroke-width="2.6"/>
<rect x="1550.0" y="2169.5" width="50.4" height="393.0" fill="#606060"/>
<path d="M1551.2,2562.5 V2170.7 H1599.2 V2562.5" fill="none" stroke="#2c2c2c" stroke-width="2.4"/>
<rect x="1606.5" y="2251.5" width="50.0" height="311.0" fill="#d4d4d4"/>
<path d="M1607.7,2562.5 V2252.7 H1655.3 V2562.5" fill="none" stroke="#5c5c5c" stroke-width="2.4"/>
<text x="1577.4" y="2122.0" font-size="28" text-anchor="middle" font-weight="bold" fill="#161616" stroke="#161616" stroke-width="0.8" letter-spacing="4.5">***</text>
<line x1="202.0" y1="2562.5" x2="1684.0" y2="2562.5" stroke="#7a7a7a" stroke-width="2.6"/>
<line x1="214.3" y1="2067.0" x2="214.3" y2="2563.5" stroke="#222" stroke-width="2.8"/>
<text transform="translate(305.6,2600.0) rotate(-49.3)" text-anchor="end" font-size="39.8" fill="#141414" stroke="#141414" stroke-width="0.45">Uninfected</text>
<text transform="translate(476.3,2591.5) rotate(-49.3)" text-anchor="end" font-size="39.8" fill="#141414" stroke="#141414" stroke-width="0.45"><tspan font-style="italic">E. coli</tspan> ATCC 25922</text>
<text transform="translate(636.3,2591.5) rotate(-49.3)" text-anchor="end" font-size="39.2" fill="#141414" stroke="#141414" stroke-width="0.45"><tspan font-style="italic">E. coli</tspan> 1949820 (FQ-R)</text>
<text transform="translate(799.5,2592.5) rotate(-49.3)" text-anchor="end" font-size="39.6" fill="#141414" stroke="#141414" stroke-width="0.45"><tspan font-style="italic">E. coli</tspan> UTI89</text>
<text transform="translate(960.8,2593.0) rotate(-49.3)" text-anchor="end" font-size="38.1" fill="#141414" stroke="#141414" stroke-width="0.45"><tspan font-style="italic">E. coli</tspan> CHD94</text>
<text transform="translate(1127.0,2593.5) rotate(-48.9)" text-anchor="end" font-size="38.7" fill="#141414" stroke="#141414" stroke-width="0.45"><tspan font-style="italic">E. coli</tspan> K-12 MG1655</text>
<text transform="translate(1299.5,2591.5) rotate(-48.5)" text-anchor="end" font-size="39.0" fill="#141414" stroke="#141414" stroke-width="0.45"><tspan font-style="italic">K. pneumoniae</tspan> 595 WT</text>
<text transform="translate(1455.5,2584.5) rotate(-49.3)" text-anchor="end" font-size="39.6" fill="#141414" stroke="#141414" stroke-width="0.45"><tspan font-style="italic">E. faecalis</tspan> 60</text>
<text transform="translate(1615.5,2591.5) rotate(-49.3)" text-anchor="end" font-size="39.7" fill="#141414" stroke="#141414" stroke-width="0.45"><tspan font-style="italic">E. cloacae</tspan> ATCC BAA-2468</text>
</g>
</svg></body></html>
